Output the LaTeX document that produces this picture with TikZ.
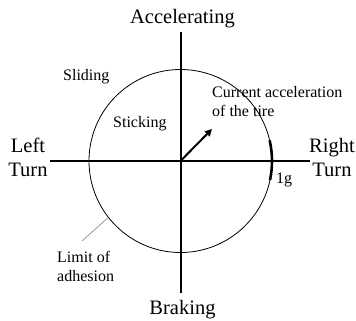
\documentclass[tikz,border=0pt]{standalone}
\usepackage{fontspec}
\setmainfont{Liberation Serif}
\usetikzlibrary{arrows.meta}
\begin{document}
\begin{tikzpicture}[x=1pt,y=-1pt,
  big/.style={font=\fontsize{20.5}{24}\selectfont, inner sep=0pt, align=center},
  small/.style={font=\fontsize{16}{19}\selectfont, inner sep=0pt, align=left},
  axis/.style={line width=1.3pt},
]
\useasboundingbox (0,0) rectangle (356,321);
\coordinate (O) at (180.5,161);
\coordinate (top) at (181,32);
\coordinate (bot) at (181,293);
\coordinate (lft) at (50,161);
\coordinate (rgt) at (310,161);
\draw[axis] (top) -- (bot);
\draw[axis] (lft) -- (rgt);
\draw[line width=0.8pt] (O) circle[radius=91.5];
% 1g mark
\draw[line width=2.6pt] ([shift={(-13:91.5)}]O) arc[start angle=-13, end angle=12, radius=91.5];
% arrow
\coordinate (tip) at (212,129);
\draw[line width=2pt, -{Triangle[length=7pt,width=7pt]}] (O) -- (tip);
% leader
\coordinate (lim) at ([shift={(142:91.5)}]O);
\coordinate (limend) at (82,241);
\draw[gray, line width=0.6pt] (lim) -- (limend);
% texts
\node[big, anchor=base] (acc) at (182.5,24) {Accelerating};
\node[big, anchor=base] (brk) at (182.5,314) {Braking};
\node[big, anchor=base] (left) at (28,176) {Left\\Turn};
\node[big, anchor=base] (right) at (332,176) {Right\\Turn};
\node[small, anchor=base west] (sl) at (63,81) {Sliding};
\node[small, anchor=base west] (st) at (113,127) {Sticking};
\node[small, anchor=base west] (cur) at (212,116) {Current acceleration\\of the tire};
\node[small, anchor=base west] (lim1) at (57,281) {Limit of\\adhesion};
\node[small, anchor=base west] (g) at (276,183) {1g};
\end{tikzpicture}
\end{document}
